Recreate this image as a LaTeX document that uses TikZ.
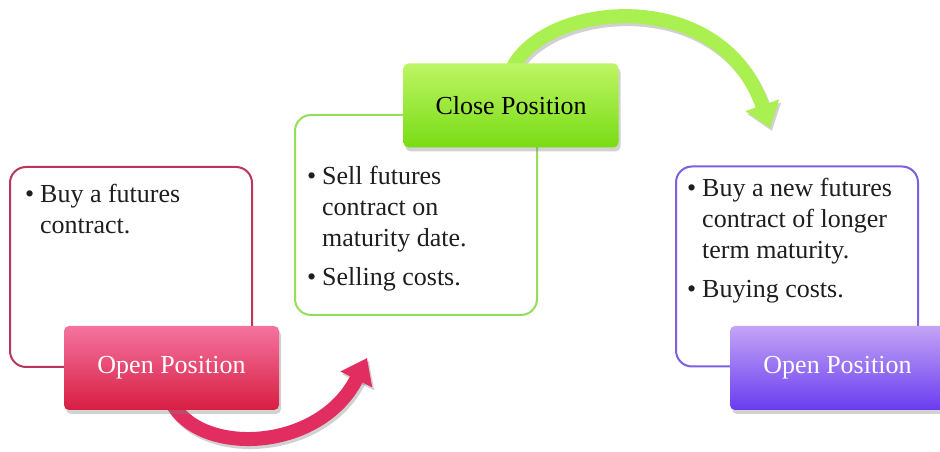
\documentclass[tikz,border=0pt]{standalone}
\usepackage{fontspec}
\setmainfont{Liberation Serif}
\usetikzlibrary{arrows.meta,shadows,backgrounds}
\definecolor{redline}{RGB}{185,55,90}
\definecolor{redtop}{RGB}{245,115,160}
\definecolor{redbot}{RGB}{215,30,65}
\definecolor{greenline}{RGB}{150,222,90}
\definecolor{greentop}{RGB}{190,245,100}
\definecolor{greenbot}{RGB}{120,220,20}
\definecolor{purpline}{RGB}{125,95,225}
\definecolor{purptop}{RGB}{195,165,245}
\definecolor{purpbot}{RGB}{105,60,240}
\definecolor{redarr}{RGB}{225,45,95}
\definecolor{greenarr}{RGB}{170,240,80}
\definecolor{bodyink}{RGB}{30,30,30}
\newcommand{\bulletmark}{\makebox[15pt][l]{\textbullet}}
\newcommand{\hangin}{\hspace*{15pt}}
\begin{document}
\begin{tikzpicture}[x=1pt,y=1pt,
  infobox/.style={draw, line width=2pt, rounded corners=16pt, fill=white,
    minimum width=242pt, minimum height=200pt, inner sep=0pt},
  labelbox/.style={rounded corners=5pt, inner sep=0pt,
    minimum width=215pt, minimum height=84pt,
    font=\fontsize{26}{31}\selectfont,
    drop shadow={opacity=0.35,shadow xshift=2pt,shadow yshift=-4pt}},
  bodytext/.style={anchor=base west, inner sep=0pt, text width=300pt,
    align=flush left, text=bodyink, font=\fontsize{26}{31}\selectfont},
  bigarrow/.style={line width=14pt, -{Triangle[length=24pt,width=34pt]}},
  arrowshadow/.style={bigarrow, black, opacity=0.18},
]
\clip (0,0) rectangle (940,452);

% info boxes (background layer)
\begin{scope}[on background layer]
  \fill[white] (0,0) rectangle (940,452);
  \node[infobox, draw=redline] (box1) at (131,185) {};
  \node[infobox, draw=greenline] (box2) at (416,237) {};
  \node[infobox, draw=purpline] (box3) at (797,185.5) {};
\end{scope}

% body texts
\node[bodytext] (txt1) at (25,249)
  {\bulletmark Buy a futures\\\hangin contract.};
\node[bodytext] (txt2) at (307,267)
  {\bulletmark Sell futures\\\hangin contract on\\\hangin maturity date.\\[8pt]\bulletmark Selling costs.};
\node[bodytext] (txt3) at (687,255)
  {\bulletmark Buy a new futures\\\hangin contract of longer\\\hangin term maturity.\\[8pt]\bulletmark Buying costs.};

% label boxes
\node[labelbox, top color=redtop, bottom color=redbot, text=white] (lab1) at (171.5,84) {Open Position};
\node[labelbox, top color=greentop, bottom color=greenbot, text=black] (lab2) at (511,346.5) {Close Position};
\node[labelbox, top color=purptop, bottom color=purpbot, text=white] (lab3) at (837.5,84) {Open Position};

\coordinate (t1) at (367,94);
\coordinate (t2) at (770,324);

% arrows (behind the labels, above the boxes)
\begin{scope}[on background layer]
  \draw[arrowshadow, transform canvas={xshift=2pt,yshift=-3pt}]
    ([yshift=8pt]lab1.south) .. controls (200,-5) and (320,0) .. (t1);
  \draw[bigarrow, redarr]
    ([yshift=8pt]lab1.south) .. controls (200,-5) and (320,0) .. (t1);
  \draw[arrowshadow, transform canvas={xshift=2pt,yshift=-3pt}]
    ([yshift=-8pt]lab2.north) .. controls (540,450) and (720,470) .. (t2);
  \draw[bigarrow, greenarr]
    ([yshift=-8pt]lab2.north) .. controls (540,450) and (720,470) .. (t2);
\end{scope}
\end{tikzpicture}
\end{document}
